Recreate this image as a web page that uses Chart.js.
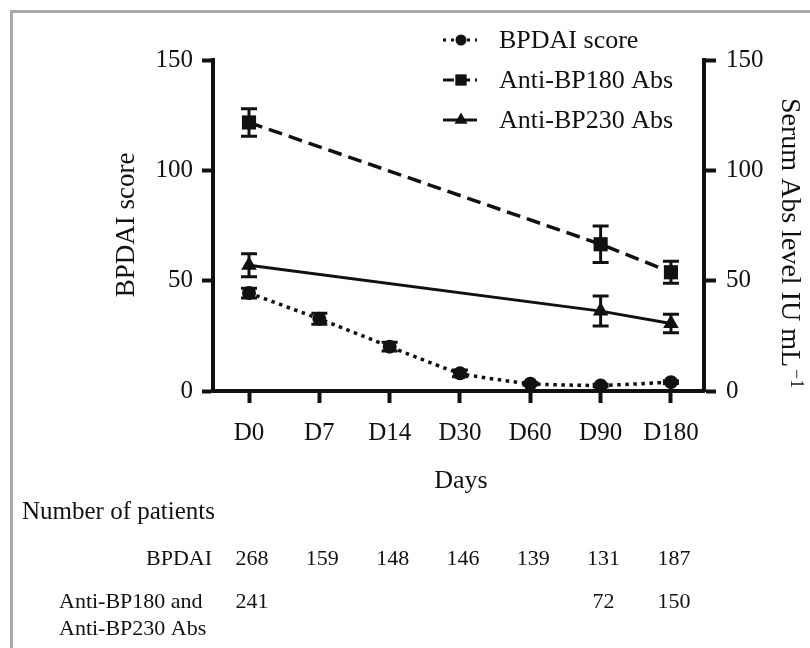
<!DOCTYPE html>
<html>
<head>
<meta charset="utf-8">
<script src="https://cdn.jsdelivr.net/npm/chart.js@4.4.1/dist/chart.umd.min.js"></script>
<style>
  html, body { margin: 0; padding: 0; background: #fff; }
  canvas { display: block; }
</style>
</head>
<body>
<canvas id="myChart" width="810" height="648"></canvas>
<script>
// --- DATA ---
const days = ['D0', 'D7', 'D14', 'D30', 'D60', 'D90', 'D180'];
const yTicks = [0, 50, 100, 150];

// BPDAI score (left axis), mean and error
const bpdaiScore = [44.4, 32.7, 20.1, 8.0, 3.3, 2.5, 4.0];
const bpdaiErr   = [2.2, 2.5, 2.0, 1.5, 0.6, 0.6, 0.6];

// serum antibodies (right axis), only D0, D90, D180 measured
const bp180    = [121.7, null, null, null, null, 66.5, 53.8];
const bp180Err = [6.2, null, null, null, null, 8.3, 5.0];
const bp230    = [57.0, null, null, null, null, 36.2, 30.6];
const bp230Err = [5.2, null, null, null, null, 6.8, 4.2];

// number of patients table
const nBpdai = [268, 159, 148, 146, 139, 131, 187];
const nAbs   = [241, null, null, null, null, 72, 150];

const SERIF = "'Liberation Serif', 'Times New Roman', serif";
Chart.defaults.font.family = SERIF;
Chart.defaults.color = '#111';

function toPoints(arr) {
    return arr.map((v, i) => ({ x: i, y: v })).filter(p => p.y !== null);
}

// --- PLUGIN: error bars ---
const errorBars = {
    id: 'errorBars',
    afterDatasetsDraw(chart) {
        const ctx = chart.ctx;
        const xs = chart.scales.x;
        chart.data.datasets.forEach(ds => {
            const ys = chart.scales[ds.yAxisID];
            ds.data.forEach(p => {
                const e = ds.errors[p.x];
                if (!e) return;
                const x = xs.getPixelForValue(p.x);
                const top = ys.getPixelForValue(p.y + e);
                const bot = ys.getPixelForValue(p.y - e);
                ctx.save();
                ctx.strokeStyle = '#111';
                ctx.lineWidth = 3;
                ctx.beginPath();
                ctx.moveTo(x, top); ctx.lineTo(x, bot);
                ctx.moveTo(x - 8, top); ctx.lineTo(x + 8, top);
                ctx.moveTo(x - 8, bot); ctx.lineTo(x + 8, bot);
                ctx.stroke();
                ctx.restore();
            });
        });
    }
};

// --- PLUGIN: titles, legend, table, frame ---
const extras = {
    id: 'extras',
    afterDraw(chart) {
        const ctx = chart.ctx;
        const xs = chart.scales.x;
        ctx.save();

        // frame
        ctx.fillStyle = '#a9a9a9';
        ctx.fillRect(10, 10, 800, 3);
        ctx.fillRect(10, 10, 3, 638);
        ctx.fillStyle = '#111';

        // left title
        ctx.save();
        ctx.translate(127, 225);
        ctx.rotate(-Math.PI / 2);
        ctx.font = '27px ' + SERIF;
        ctx.textAlign = 'center';
        ctx.textBaseline = 'middle';
        ctx.fillText('BPDAI score', 0, 0);
        ctx.restore();

        // right title with superscript
        ctx.save();
        ctx.translate(789, 98);
        ctx.rotate(Math.PI / 2);
        ctx.font = '28px ' + SERIF;
        ctx.textAlign = 'left';
        ctx.textBaseline = 'middle';
        const main = 'Serum Abs level IU mL';
        ctx.fillText(main, 0, 0);
        const w = ctx.measureText(main).width;
        ctx.font = '18px ' + SERIF;
        ctx.fillText('\u22121', w + 2, -7);
        ctx.restore();

        // x title
        ctx.font = '26px ' + SERIF;
        ctx.textAlign = 'center';
        ctx.textBaseline = 'middle';
        ctx.fillText('Days', 461, 481);

        // legend
        const rows = [
            { text: 'BPDAI score', y: 40, dash: [3, 5], style: 'circle', r: 5.5 },
            { text: 'Anti-BP180 Abs', y: 80, dash: [11, 5], style: 'rect', r: 8 },
            { text: 'Anti-BP230 Abs', y: 120, dash: [], style: 'triangle', r: 7.5 }
        ];
        rows.forEach(r => {
            ctx.save();
            ctx.strokeStyle = '#111';
            ctx.lineWidth = 3;
            ctx.setLineDash(r.dash);
            ctx.beginPath();
            ctx.moveTo(443, r.y); ctx.lineTo(477, r.y);
            ctx.stroke();
            ctx.setLineDash([]);
            ctx.fillStyle = '#111';
            Chart.helpers.drawPoint(ctx, { pointStyle: r.style, radius: r.r, rotation: 0, borderWidth: 0 }, 461, r.y);
            ctx.restore();
            ctx.font = '26px ' + SERIF;
            ctx.textAlign = 'left';
            ctx.textBaseline = 'middle';
            ctx.fillText(r.text, 499, r.y + 1);
        });

        // table
        ctx.font = '25px ' + SERIF;
        ctx.textAlign = 'left';
        ctx.fillText('Number of patients', 22, 512);
        ctx.font = '22px ' + SERIF;
        ctx.textAlign = 'right';
        ctx.fillText('BPDAI', 212, 559);
        ctx.textAlign = 'left';
        ctx.fillText('Anti-BP180 and', 59, 602);
        ctx.fillText('Anti-BP230 Abs', 59, 629);
        ctx.textAlign = 'center';
        nBpdai.forEach((n, i) => ctx.fillText(String(n), xs.getPixelForValue(i) + 3, 559));
        nAbs.forEach((n, i) => {
            if (n !== null) ctx.fillText(String(n), xs.getPixelForValue(i) + 3, 602);
        });
        ctx.restore();
    }
};

// --- CHART ---
const axisGrid = { drawOnChartArea: false, drawTicks: true, tickWidth: 4, tickColor: '#111' };
const axisBorder = { display: true, width: 4, color: '#111' };

const ctx = document.getElementById('myChart').getContext('2d');
new Chart(ctx, {
    type: 'line',
    data: {
        datasets: [{
            label: 'BPDAI score',
            data: toPoints(bpdaiScore),
            errors: bpdaiErr,
            yAxisID: 'y',
            borderColor: '#111',
            backgroundColor: '#111',
            borderWidth: 3.5,
            borderDash: [3.5, 4.5],
            tension: 0.15,
            pointStyle: 'circle',
            pointRadius: 7,
            pointBorderWidth: 0
        }, {
            label: 'Anti-BP180 Abs',
            data: toPoints(bp180),
            errors: bp180Err,
            yAxisID: 'y2',
            borderColor: '#111',
            backgroundColor: '#111',
            borderWidth: 3.5,
            borderDash: [14, 7],
            pointStyle: 'rect',
            pointRadius: 10,
            pointBorderWidth: 0
        }, {
            label: 'Anti-BP230 Abs',
            data: toPoints(bp230),
            errors: bp230Err,
            yAxisID: 'y2',
            borderColor: '#111',
            backgroundColor: '#111',
            borderWidth: 3,
            pointStyle: 'triangle',
            pointRadius: 9,
            pointBorderWidth: 0
        }]
    },
    options: {
        responsive: false,
        animation: false,
        devicePixelRatio: 1,
        layout: { padding: { top: 60, left: 0, right: 0, bottom: 0 } },
        plugins: { legend: { display: false }, tooltip: { enabled: false } },
        scales: {
            x: {
                type: 'linear',
                position: 'bottom',
                min: -0.512,
                max: 6.47,
                afterBuildTicks: s => { s.ticks = days.map((d, i) => ({ value: i })); },
                afterFit: s => { s.height = 257; },
                ticks: {
                    callback: v => days[v],
                    font: { size: 25 },
                    color: '#111',
                    padding: 15,
                    maxRotation: 0,
                    autoSkip: false
                },
                grid: Object.assign({ tickLength: 12 }, axisGrid),
                border: axisBorder
            },
            y: {
                position: 'left',
                min: 0,
                max: 150,
                afterBuildTicks: s => { s.ticks = yTicks.map(v => ({ value: v })); },
                afterFit: s => { s.width = 213; },
                ticks: { font: { size: 25 }, color: '#111', padding: 9 },
                grid: Object.assign({ tickLength: 11 }, axisGrid),
                border: axisBorder
            },
            y2: {
                position: 'right',
                min: 0,
                max: 150,
                afterBuildTicks: s => { s.ticks = yTicks.map(v => ({ value: v })); },
                afterFit: s => { s.width = 106; },
                ticks: { font: { size: 25 }, color: '#111', padding: 10 },
                grid: Object.assign({ tickLength: 12 }, axisGrid),
                border: axisBorder
            }
        }
    },
    plugins: [errorBars, extras]
});
</script>
</body>
</html>
